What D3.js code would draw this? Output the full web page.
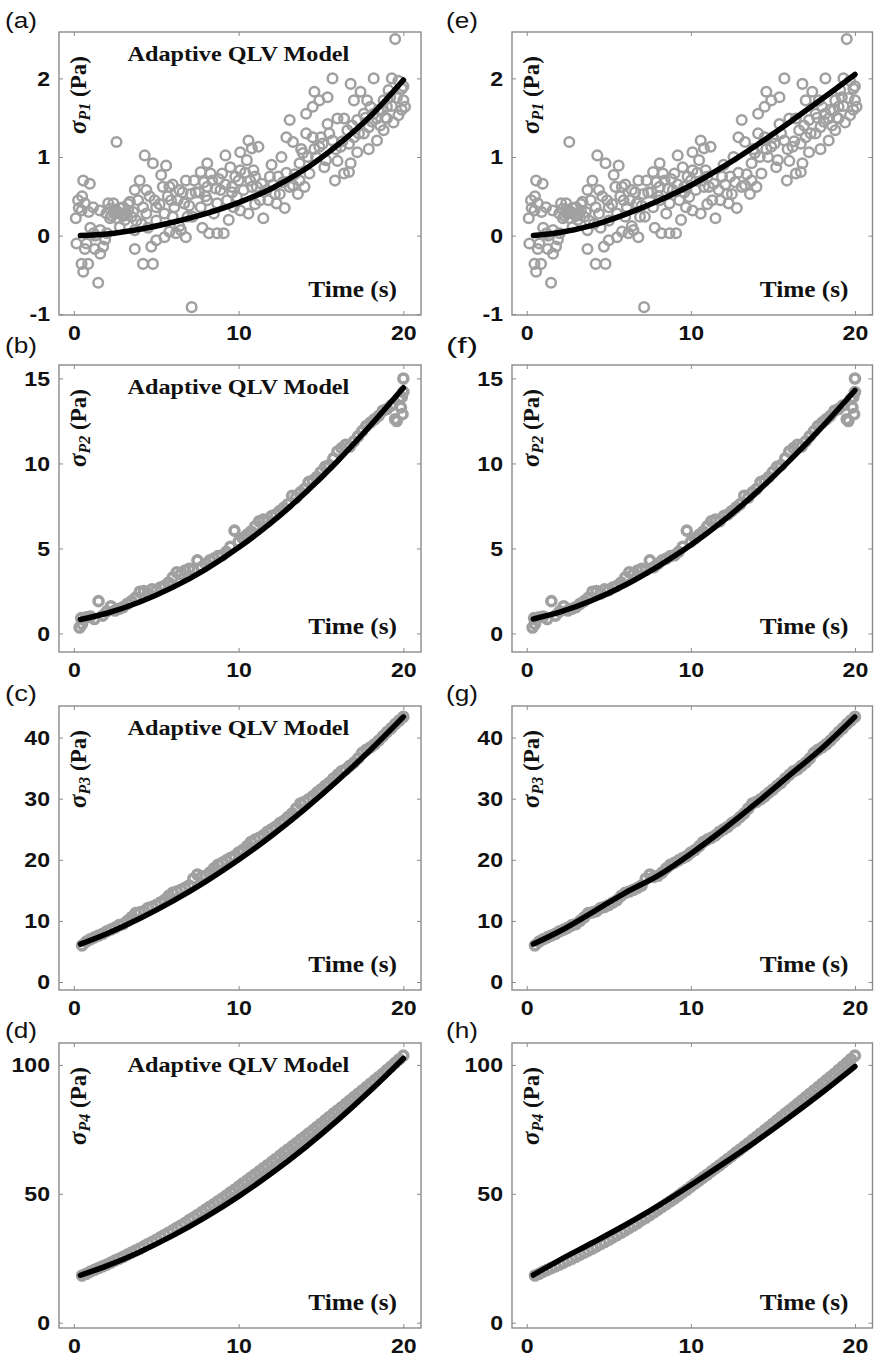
<!DOCTYPE html>
<html><head><meta charset="utf-8">
<script src="https://cdn.jsdelivr.net/npm/d3@7"></script>
<style>
body{margin:0;background:#fff}
.st{transform-box:fill-box;transform-origin:center;transform:scaleX(1.1)}
.str{transform-box:fill-box;transform-origin:right center;transform:scaleX(1.1)}
</style></head><body>
<svg id="chart" width="874" height="1357"></svg>
<script>
// ---------- data ----------
const panelLetters = ["(a)","(b)","(c)","(d)","(e)","(f)","(g)","(h)"];
const subscripts = ["P1","P2","P3","P4"];
const timeTicks = [0,10,20];
const yTicks1 = [-1,0,1,2];
const yTicks2 = [0,5,10,15];
const yTicks3 = [0,10,20,30,40];
const yTicks4 = [0,50,100];

// noisy response P1 (same measured data in (a) and (e)) : [time, stress]
const p1Points = [
[0.12,0.22],[0.26,0.45],[0.57,0.70],[0.97,0.66],[0.47,0.32],[0.67,0.41],[1.17,0.36],[0.77,-0.10],
[0.47,-0.36],[0.87,-0.36],[0.57,-0.46],[1.48,-0.60],[1.28,-0.17],[1.78,-0.14],[2.09,0.41],[1.98,0.28],
[2.59,1.19],[2.49,0.28],[3.0,0.36],[3.2,0.28],[2.79,0.11],[3.4,0.43],[3.7,-0.17],[4.2,-0.36],
[4.8,-0.36],[4.3,1.02],[4.8,0.92],[5.6,0.89],[5.3,0.77],[4.0,0.70],[4.4,0.58],[3.7,0.58],
[4.9,0.45],[3.8,0.19],[4.4,0.28],[5.0,-0.06],[5.5,-0.02],[6.0,0.24],[5.9,0.45],[6.4,0.58],
[6.7,0.41],[7.1,0.53],[7.7,0.81],[7.9,0.68],[8.1,0.92],[8.3,0.79],[7.15,-0.91],[6.8,-0.02],
[6.5,0.07],[8.2,0.03],[8.7,0.03],[9.1,0.03],[8.5,0.28],[8.9,0.58],[9.2,1.02],[9.5,0.87],
[9.0,0.79],[10.1,1.06],[10.6,1.21],[10.8,1.11],[11.2,1.13],[10.5,0.96],[10.1,0.83],[9.8,0.75],
[10.9,0.83],[10.6,0.28],[11.5,0.22],[11.3,0.45],[11.9,0.75],[12.3,0.41],[12.2,0.53],[12.7,0.68],
[13.1,1.47],[12.9,1.25],[13.3,1.19],[13.7,0.92],[13.6,0.53],[13.3,0.64],[14.1,1.30],[14.1,1.55],
[14.5,1.64],[14.6,1.83],[14.9,1.72],[15.4,1.76],[14.5,1.25],[14.9,1.13],[15.3,0.96],[15.2,0.87],
[15.4,1.42],[15.7,2.0],[15.85,0.70],[16.4,0.79],[16.7,0.81],[16.8,0.92],[16.2,1.13],[16.0,1.49],
[16.4,1.49],[16.8,1.93],[17.4,1.83],[17.0,1.25],[17.2,1.06],[16.7,1.17],[18.2,2.0],[17.8,1.72],
[17.9,1.38],[17.6,1.30],[18.2,1.55],[18.7,1.59],[19.0,1.49],[19.3,2.0],[19.7,1.97],[19.5,2.50],
[19.9,1.87],[20.0,1.72],[20.1,1.64],[19.7,1.53],[19.4,1.44],[18.6,1.40],[18.4,1.49],[17.0,1.72],
[1.58,0.32],[2.2,0.34],[2.4,0.41],[2.7,0.30],[3.3,0.32],[3.5,0.24],[1.6,0.07],[1.2,0.03],
[2.0,0.03],[0.16,-0.10],[0.67,-0.17],[1.6,-0.23],[5.4,0.62],[5.8,0.62],[5.5,0.28],[5.0,0.19],
[6.2,0.03],[7.2,0.24],[7.7,0.36],[8.1,0.45],[8.7,0.41],[9.3,0.45],[9.7,0.36],[10.1,0.32],
[9.9,0.49],[10.3,0.58],[10.8,0.62],[11.1,0.62],[11.7,0.58],[12.5,0.53],[13.1,0.62],[13.7,0.70],
[14.3,0.79],[14.7,1.0],[15.1,1.17],[15.7,1.21],[16.6,1.34],[17.2,1.47],[17.6,1.55],[18.0,1.64],
[18.8,1.72],[19.2,1.76],[19.0,1.64],[18.4,1.21],[18.8,1.34],[8.1,0.62],[6.8,0.70],[6.9,0.24],
[5.0,0.36],[6.1,0.36],[4.2,0.36],[3.7,0.07],[4.7,-0.14],[2.3,0.25],[2.6,0.22],[2.9,0.27],
[3.1,0.2],[2.5,0.33],[7.4,0.55],[8.6,0.6],[9.6,0.62],[12.0,0.9],[12.6,1.0],[13.9,1.05],
[0.3,0.35],[0.5,0.5],[0.9,0.3],[1.0,0.1],[1.3,0.0],[1.9,-0.05],[2.2,0.22],[2.4,0.3],
[2.8,0.35],[3.0,0.25],[3.3,0.4],[3.6,0.3],[4.1,0.15],[4.5,0.1],[5.2,0.4],[5.7,0.5],
[6.0,0.65],[6.3,0.45],[6.6,0.55],[7.0,0.38],[7.3,0.7],[7.6,0.55],[8.0,0.5],[8.4,0.7],
[8.8,0.72],[9.2,0.65],[9.6,0.55],[10.0,0.7],[10.4,0.8],[10.7,0.7],[11.0,0.75],[11.4,0.66],
[11.8,0.45],[12.1,0.65],[12.4,0.75],[12.9,0.8],[13.4,0.78],[13.8,1.1],[14.2,1.0],[14.6,1.1],
[15.0,1.25],[15.5,1.3],[15.9,1.1],[16.3,1.2],[16.9,1.4],[17.3,1.3],[17.7,1.5],[18.1,1.45],
[18.5,1.6],[18.9,1.5],[19.3,1.65],[19.6,1.75],[19.9,1.6],[20.0,1.9],[19.1,1.85],[17.9,1.1],
[16.0,0.95],[14.0,0.62],[12.8,0.35],[11.0,0.4],[9.4,0.2],[7.8,0.1],[6.4,0.12],[5.8,0.05],
[4.6,0.5],[3.9,0.45]
];

// smooth responses P2..P4 sampled every 0.25 s (same data in left and right columns)
const sampleTime = [0.5,0.75,1,1.25,1.5,1.75,2,2.25,2.5,2.75,3,3.25,3.5,3.75,4,4.25,4.5,4.75,5,5.25,5.5,5.75,
6,6.25,6.5,6.75,7,7.25,7.5,7.75,8,8.25,8.5,8.75,9,9.25,9.5,9.75,10,10.25,10.5,10.75,11,11.25,11.5,11.75,
12,12.25,12.5,12.75,13,13.25,13.5,13.75,14,14.25,14.5,14.75,15,15.25,15.5,15.75,16,16.25,16.5,16.75,
17,17.25,17.5,17.75,18,18.25,18.5,18.75,19,19.25,19.5,19.75,20];
const p2Values = [0.55,0.95,1.0,0.85,1.9,1.05,1.3,1.6,1.35,1.45,1.55,1.75,1.9,2.1,2.45,2.5,2.35,2.6,
2.55,2.7,2.8,3.0,3.3,3.6,3.5,3.7,3.8,3.75,4.3,3.9,4.1,4.3,4.4,4.55,4.6,4.8,5.1,6.05,5.4,5.6,5.8,6.0,
6.3,6.6,6.7,6.6,6.9,7.0,7.2,7.4,7.6,8.1,8.0,8.3,8.5,8.9,9.0,9.2,9.5,9.8,9.9,10.3,10.7,10.9,11.1,11.0,
11.3,11.6,11.9,12.2,12.4,12.6,12.8,13.1,13.2,13.4,12.6,13.8,15.0];
const p2Extra = [[0.35,0.35],[0.45,0.9],[19.9,13.9],[19.85,13.3],[19.6,12.5],[20.0,14.2],[19.95,12.9]];
const p3Values = [6.0,6.6,7.0,7.3,7.6,7.9,8.3,8.6,8.9,9.3,9.5,10.0,10.6,11.3,11.4,11.6,12.1,12.3,
12.6,13.0,13.4,14.1,14.6,14.8,15.1,15.4,15.8,16.9,17.6,17.2,17.4,17.9,18.6,19.2,19.5,19.9,20.3,20.6,
21.2,21.6,22.2,22.9,23.3,23.6,24.0,24.6,25.0,25.4,26.0,26.4,27.0,27.6,28.4,29.2,29.5,29.9,30.4,31.0,
31.5,32.1,32.6,33.3,33.9,34.5,34.8,35.4,35.9,36.6,37.5,38.0,38.4,38.9,39.5,40.2,40.9,41.5,42.2,42.8,43.4];
const p4Values = [18.3,19.0,19.8,20.5,21.2,21.9,22.6,23.3,24.1,24.8,25.6,26.4,27.2,28.0,28.8,29.6,30.5,31.3,
32.2,33.1,34.0,34.9,35.8,36.8,37.7,38.7,39.8,40.7,41.8,42.8,43.9,45.0,46.0,47.1,48.2,49.3,50.5,51.6,
52.8,54.0,55.1,56.3,57.5,58.7,59.9,61.1,62.3,63.5,64.7,66.0,67.2,68.4,69.6,70.9,72.1,73.4,74.6,75.9,
77.2,78.5,79.8,81.1,82.3,83.6,84.9,86.2,87.5,88.8,90.1,91.4,92.7,94.0,95.3,96.6,98.0,99.4,100.8,102.2,103.6];

// model fits
const fitTime = [0.4,2,4,6,8,10,12,14,16,18,20];
const fitA = [0.0,0.02,0.08,0.17,0.28,0.42,0.60,0.84,1.15,1.52,1.98];
const fitB = [0.82,1.19,1.85,2.71,3.77,5.05,6.53,8.23,10.13,12.23,14.45];
const fitC = [6.2,7.9,10.38,13.22,16.42,20.0,23.94,28.26,32.94,37.98,43.4];
const fitD = [18.4,22.04,27.46,33.76,40.94,49.0,57.94,67.76,78.46,90.04,102.5];
const fitE = [0.0,0.04,0.13,0.27,0.44,0.64,0.88,1.15,1.44,1.74,2.05];
const fitF = [0.85,1.25,1.95,2.85,3.95,5.2,6.65,8.3,10.15,12.15,14.3];
const fitG = [6.2,8.3,11.4,14.6,17.4,21.0,25.0,29.3,33.8,38.3,43.4];
const fitH = [18.5,24.3,31.0,37.9,45.3,53.4,61.8,70.5,79.7,89.3,99.4];

// ---------- layout ----------
const svg = d3.select("#chart");
const colX = [[59,421],[512,872.5]];
const rowY = [[32,315],[365,652],[706,990],[1043,1328]];
const yDomains = [[-1.01,2.59],[-1.09,15.79],[-1.31,45.17],[-2.06,108.5]];
const xDomain = [-0.9,21.07];
const letterBase = [28,353,701,1038];
const letterX = [5,446];
const rowTicks = [yTicks1,yTicks2,yTicks3,yTicks4];

const zip = (t,v)=>t.map((d,i)=>[d,v[i]]);
const smooth2 = zip(sampleTime,p2Values).concat(p2Extra);
const smooth3 = zip(sampleTime,p3Values);
const smooth4 = zip(sampleTime,p4Values);
const rowData = [p1Points,smooth2,smooth3,smooth4];
const fits = [[fitA,fitB,fitC,fitD],[fitE,fitF,fitG,fitH]];

const gray = "#a0a0a0";
const frameCol = "#8a8a8a";

for (let col=0; col<2; col++){
  for (let row=0; row<4; row++){
    const [x0,x1] = colX[col];
    const [y0,y1] = rowY[row];
    const x = d3.scaleLinear().domain(xDomain).range([x0,x1]);
    const y = d3.scaleLinear().domain(yDomains[row]).range([y1,y0]);
    const g = svg.append("g");

    // inner ticks (all four sides)
    const fmt = d=>String(d);
    const ax = [
      [d3.axisBottom(x).tickValues(timeTicks).tickFormat(fmt), `translate(0,${y1})`],
      [d3.axisTop(x).tickValues(timeTicks).tickFormat(""), `translate(0,${y0})`],
      [d3.axisLeft(y).tickValues(rowTicks[row]).tickFormat(fmt), `translate(${x0},0)`],
      [d3.axisRight(y).tickValues(rowTicks[row]).tickFormat(""), `translate(${x1},0)`]
    ];
    ax.forEach(([a,tr],k)=>{
      a.tickSizeInner(-4).tickSizeOuter(0).tickPadding(k===0?10:9);
      const ag = g.append("g").attr("transform",tr).call(a);
      ag.select(".domain").remove();
      ag.selectAll(".tick line").attr("stroke",frameCol).attr("stroke-width",1);
      ag.selectAll(".tick text")
        .attr("font-family","Liberation Sans, Arial, sans-serif")
        .attr("font-weight","bold").attr("font-size",21).attr("fill","#111")
        .attr("class", k===2 ? "str" : "st");
    });

    // data circles
    g.append("g").selectAll("circle").data(rowData[row]).join("circle")
      .attr("cx",d=>x(d[0])).attr("cy",d=>y(d[1])).attr("r",row===0?4.8:4.5)
      .attr("fill","none").attr("stroke",gray).attr("stroke-width",row===0?2.5:3.6);

    // model line
    const line = d3.line().x((d,i)=>x(fitTime[i])).y(d=>y(d)).curve(d3.curveMonotoneX);
    g.append("path").attr("d",line(fits[col][row])).attr("fill","none")
      .attr("stroke","#000").attr("stroke-width",5.5).attr("stroke-linecap","round");

    // frame
    g.append("rect").attr("x",x0).attr("y",y0).attr("width",x1-x0).attr("height",y1-y0)
      .attr("fill","none").attr("stroke",frameCol).attr("stroke-width",1.4);

    // y label
    const yl = g.append("text")
      .attr("transform",`translate(${x0+27},${y0+102}) rotate(-90)`)
      .attr("font-family","Liberation Serif, Times New Roman, serif")
      .attr("font-weight","bold").attr("font-size",23).attr("fill","#111");
    yl.append("tspan").attr("font-style","italic").attr("font-size",25).text("σ");
    yl.append("tspan").attr("font-style","italic").attr("font-size",16).attr("dy",4).text(subscripts[row]);
    yl.append("tspan").attr("dy",-4).text(" (Pa)");

    // model title
    if (col===0){
      g.append("text").attr("x",x0+179.5).attr("y",y0+29).attr("text-anchor","middle")
        .attr("class","st")
        .attr("font-family","Liberation Serif, Times New Roman, serif")
        .attr("font-weight","bold").attr("font-size",22).attr("fill","#111")
        .text("Adaptive QLV Model");
    }
    // x label
    g.append("text").attr("x",x1-24).attr("y",y1-18).attr("text-anchor","end")
      .attr("class","str")
      .attr("font-family","Liberation Serif, Times New Roman, serif")
      .attr("font-weight","bold").attr("font-size",23).attr("fill","#111")
      .text("Time (s)");

    // panel letter
    svg.append("text").attr("x",letterX[col]).attr("y",letterBase[row])
      .attr("font-family","Liberation Sans, Arial, sans-serif")
      .attr("font-size",22).attr("fill","#111")
      .attr("textLength",32).attr("lengthAdjust","spacingAndGlyphs")
      .text(panelLetters[col*4+row]);
  }
}
</script>
</body></html>
